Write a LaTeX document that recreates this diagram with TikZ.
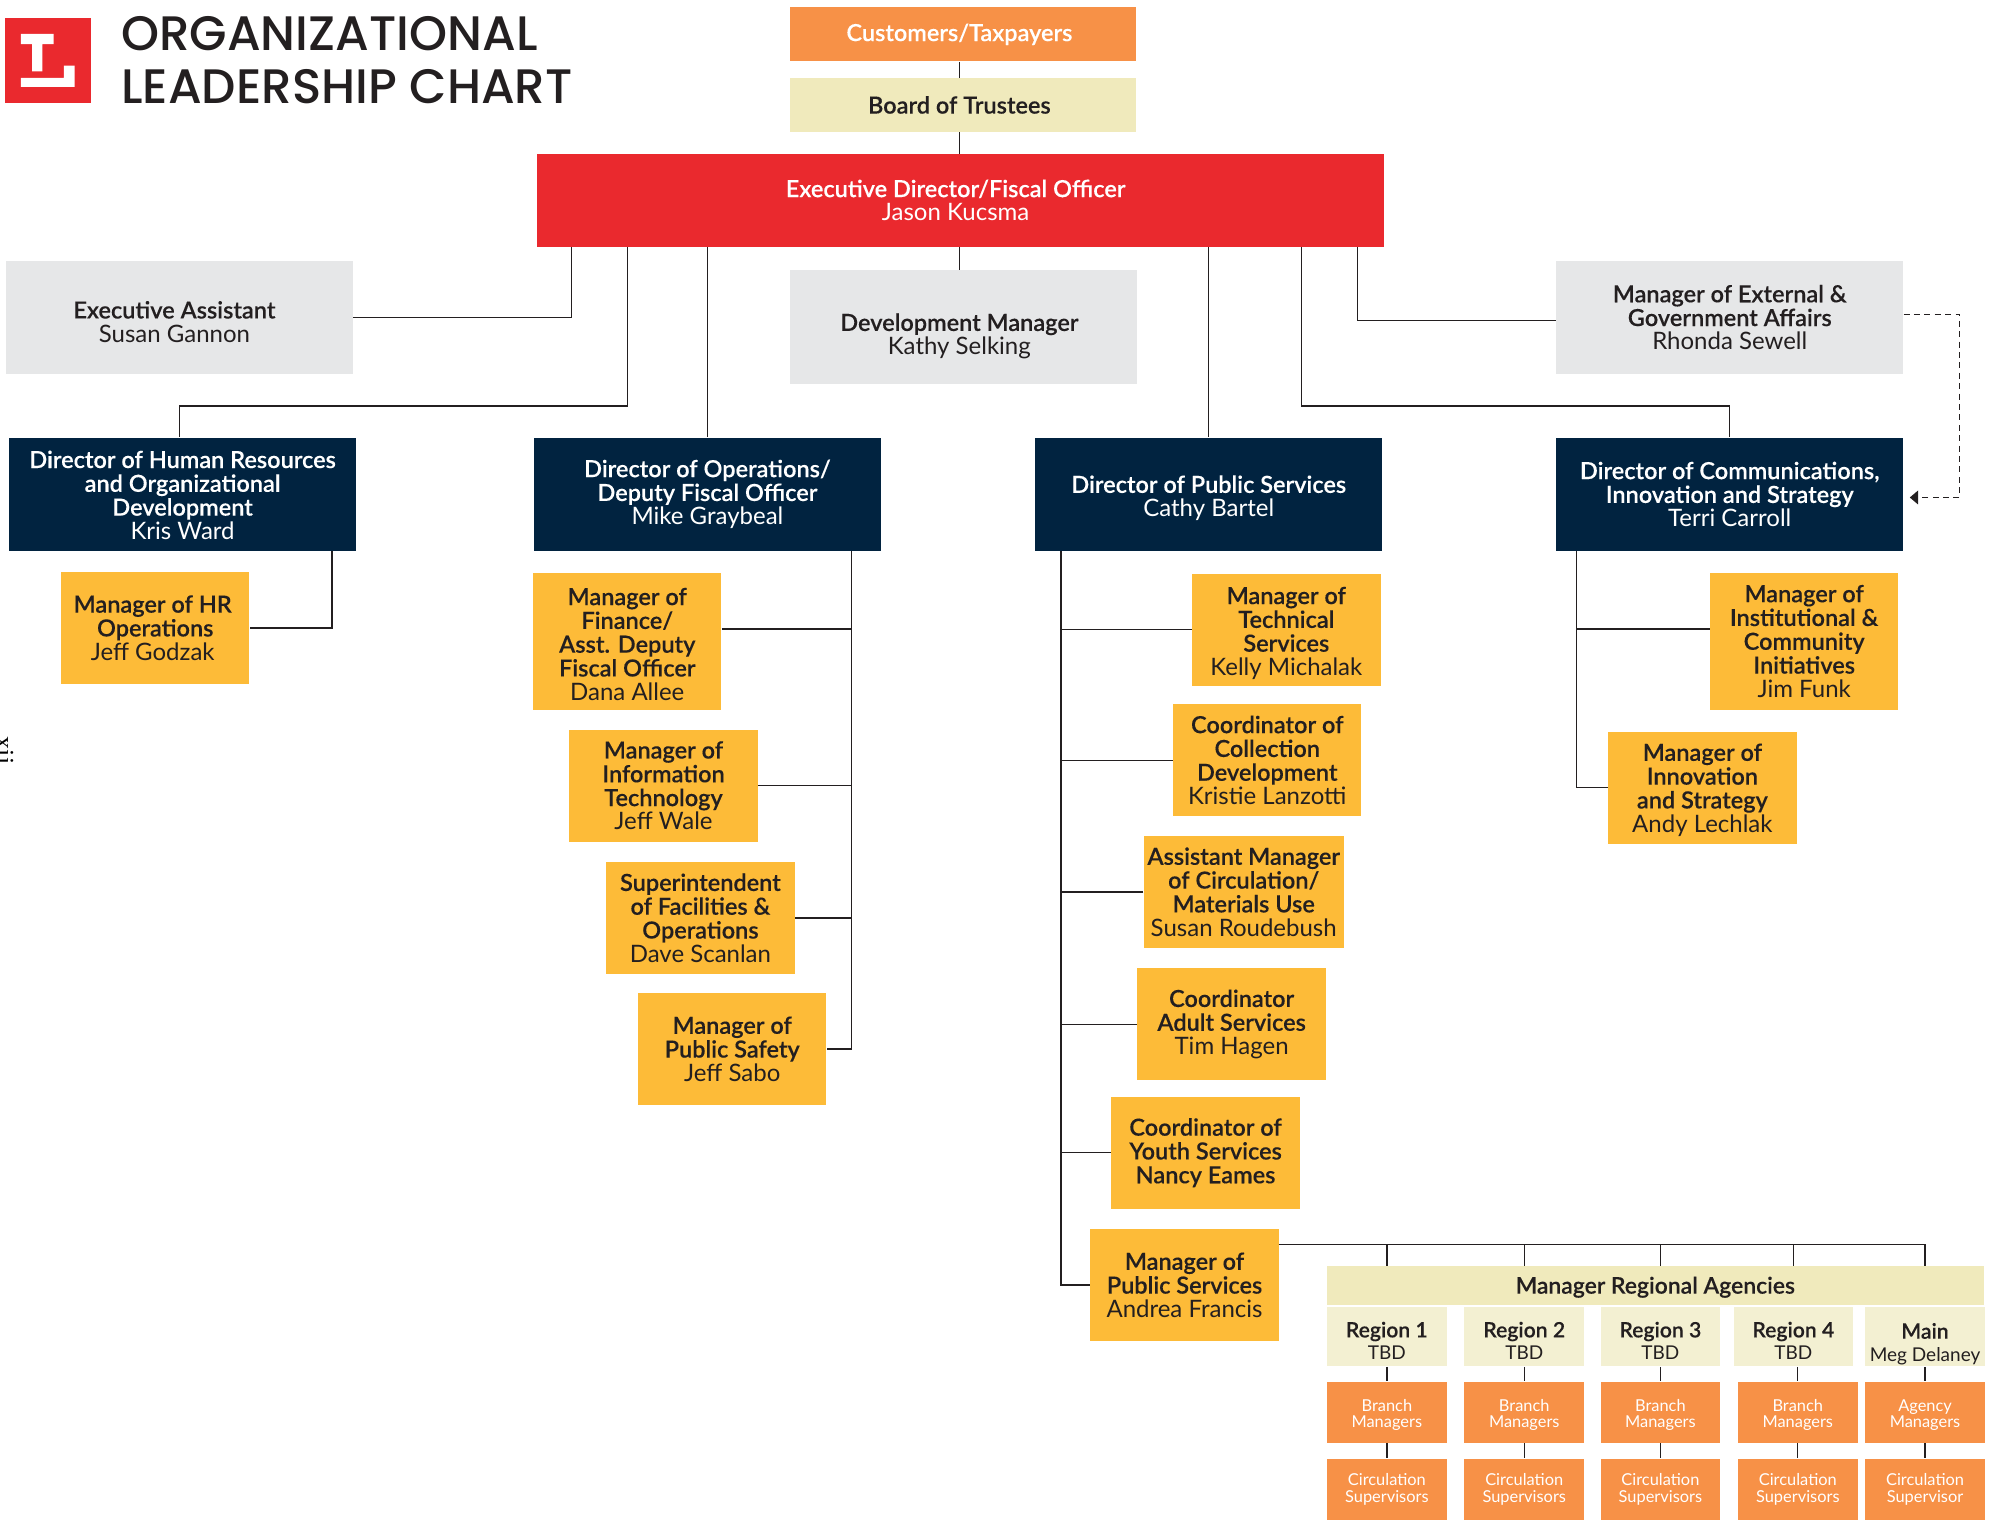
\documentclass[tikz,border=0pt]{standalone}
\usepackage{fontspec}
\setmainfont{Lato}[BoldFont={Lato Semibold}, BoldFeatures={Scale=0.98, FakeBold=0.15}]
\newfontfamily\titlefont{Poppins Medium}
\newfontfamily\pagefont{Liberation Serif}
\usepackage{tikz}
\definecolor{libred}{HTML}{EA292E}
\definecolor{liborange}{HTML}{F79147}
\definecolor{libcream}{HTML}{F0EABC}
\definecolor{libpale}{HTML}{F3F0D2}
\definecolor{libgray}{HTML}{E6E7E8}
\definecolor{libnavy}{HTML}{012340}
\definecolor{libyellow}{HTML}{FDBB38}
\definecolor{libink}{HTML}{231F20}
\newcommand{\dropline}[1]{\rule{0pt}{#1}}
\newcommand{\tail}[1]{\hspace*{#1}}

\begin{document}
\begin{tikzpicture}[x=0.6362pt, y=0.6362pt]
		\tikzstyle{box} = [inner sep = 0pt, align = center, text = libink, font = \fontsize{12}{11.9}\selectfont]
		\tikzstyle{wide} = [box, minimum width = 173.4pt, minimum height = 56.6pt]
		\tikzstyle{staff} = [wide, fill = libgray]
		\tikzstyle{director} = [wide, fill = libnavy, text = white]
		\tikzstyle{manager} = [box, fill = libyellow, minimum width = 94.2pt, minimum height = 56pt]
		\tikzstyle{top} = [box, minimum width = 173.2pt, minimum height = 27pt]
		\tikzstyle{region} = [box, fill = libpale, minimum width = 59.8pt, minimum height = 29.9pt, font = \fontsize{10.8}{11.2}\selectfont]
		\tikzstyle{branch} = [box, fill = liborange, text = white, minimum width = 59.8pt, minimum height = 30.5pt, font = \fontsize{8.2}{8.2}\selectfont]
		\tikzstyle{conn} = [libink, line width = 0.65pt]
		\useasboundingbox (0,0) rectangle (1568,-1195);
		
		\node[inner sep = 0pt, fill = libred, minimum width = 42.8pt, minimum height = 42.6pt] at (37.5,-47.5) (logo) {};
		\fill[white] (16.5,-26.6) -- (42.1,-26.6) -- (42.1,-34.7) -- (33.3,-34.7) -- (33.3,-56) -- (25.3,-56) -- (25.3,-34.7) -- (16.5,-34.7) -- cycle;
		\fill[white] (50.2,-51.6) -- (58.6,-51.6) -- (58.6,-68.3) -- (16.5,-68.3) -- (16.5,-61.3) -- (50.2,-61.3) -- cycle;
		\node[anchor = base west, inner sep = 0pt, text = libink, font = \titlefont\fontsize{24.2}{24.2}\selectfont] at (95,-40) (title1) {ORGANIZATIONAL};
		\node[anchor = base west, inner sep = 0pt, text = libink, font = \titlefont\fontsize{24.2}{24.2}\selectfont] at (95,-81.3) (title2) {LEADERSHIP CHART};
		\node[anchor = base, rotate = -90, inner sep = 0pt, font = \pagefont\fontsize{13}{13}\selectfont] at (-3,-590) (pageno) {xii};
		
		\node[top, fill = liborange, text = white] at (757,-27) (customers) {\textbf{Customers/Taxpayers}\tail{3.8pt}};
		\node[top, fill = libcream] at (757,-82.5) (board) {\textbf{Board of Trustees}\tail{3.8pt}};
		\node[box, fill = libred, text = white, minimum width = 423.7pt, minimum height = 46.4pt] at (755,-157.5) (execdir) {\textbf{Executive Director/Fiscal Officer}\tail{5pt}\\Jason Kucsma\tail{5pt}};
		
		\node[staff] at (141,-249.5) (execasst) {\dropline{13pt}\textbf{Executive Assistant}\tail{5pt}\\Susan Gannon\tail{5pt}};
		\node[staff] at (757,-257) (devmgr) {\dropline{18pt}\textbf{Development Manager}\tail{3.8pt}\\Kathy Selking\tail{3.8pt}};
		\node[staff] at (1359.5,-249.5) (extmgr) {\textbf{Manager of External \&}\\\textbf{Government Affairs}\\Rhonda Sewell};
		
		\node[director] at (143.5,-388.5) (dirhr) {\dropline{9.5pt}\textbf{Director of Human Resources}\\\textbf{and Organizational}\\\textbf{Development}\\Kris Ward};
		\node[director] at (556,-388.5) (dirops) {\textbf{Director of Operations/}\\\textbf{Deputy Fiscal Officer}\\Mike Graybeal};
		\node[director] at (950,-388.5) (dirpub) {\dropline{12.5pt}\textbf{Director of Public Services}\\Cathy Bartel};
		\node[director] at (1359.5,-388.5) (dircomm) {\textbf{Director of Communications,}\\\textbf{Innovation and Strategy}\\Terri Carroll};
		
		\node[manager] at (122,-493.5) (hrops) {\textbf{Manager of HR}\tail{2.5pt}\\\textbf{Operations}\tail{2.5pt}\\Jeff Godzak\tail{2.5pt}};
		
		\node[manager, minimum height = 68.7pt] at (493,-504) (finance) {\dropline{11.5pt}\textbf{Manager of}\\\textbf{Finance/}\\\textbf{Asst. Deputy}\\\textbf{Fiscal Officer}\\Dana Allee};
		\node[manager] at (521.5,-617.5) (infotech) {\textbf{Manager of}\\\textbf{Information}\\\textbf{Technology}\\Jeff Wale};
		\node[manager] at (550.5,-721.5) (facilities) {\textbf{Superintendent}\\\textbf{of Facilities \&}\\\textbf{Operations}\\Dave Scanlan};
		\node[manager] at (575.5,-824.5) (safety) {\textbf{Manager of}\\\textbf{Public Safety}\\Jeff Sabo};
		
		\node[manager] at (1011,-495) (techserv) {\dropline{12pt}\textbf{Manager of}\\\textbf{Technical}\\\textbf{Services}\\Kelly Michalak};
		\node[manager] at (996,-597.5) (collection) {\textbf{Coordinator of}\\\textbf{Collection}\\\textbf{Development}\\Kristie Lanzotti};
		\node[manager, minimum width = 99.9pt] at (977.5,-701) (circulation) {\textbf{Assistant Manager}\\\textbf{of Circulation/}\\\textbf{Materials Use}\\Susan Roudebush};
		\node[manager] at (968,-805) (adult) {\textbf{Coordinator}\\\textbf{Adult Services}\\Tim Hagen};
		\node[manager] at (947.5,-906) (youth) {\textbf{Coordinator of}\\\textbf{Youth Services}\\\textbf{Nancy Eames}};
		\node[manager] at (931,-1010) (pubserv) {\textbf{Manager of}\\\textbf{Public Services}\\Andrea Francis};
		
		\node[manager, minimum height = 68.7pt] at (1418,-504) (institutional) {\textbf{Manager of}\\\textbf{Institutional \&}\\\textbf{Community}\\\textbf{Initiatives}\\Jim Funk};
		\node[manager] at (1338,-619) (innovation) {\dropline{11pt}\textbf{Manager of}\\\textbf{Innovation}\\\textbf{and Strategy}\\Andy Lechlak};
		
		\node[box, fill = libcream, minimum width = 328.3pt, minimum height = 19.7pt, font = \fontsize{11.7}{11.7}\selectfont] at (1301,-1010.5) (regional) {\dropline{10pt}\textbf{Manager Regional Agencies}};
		\node[region] at (1090,-1050.5) (region1) {\dropline{12pt}\textbf{Region 1}\\{\fontsize{9.5}{11}\selectfont TBD}};
		\node[region] at (1198,-1050.5) (region2) {\dropline{12pt}\textbf{Region 2}\\{\fontsize{9.5}{11}\selectfont TBD}};
		\node[region] at (1305,-1050.5) (region3) {\dropline{12pt}\textbf{Region 3}\\{\fontsize{9.5}{11}\selectfont TBD}};
		\node[region] at (1409.5,-1050.5) (region4) {\dropline{12pt}\textbf{Region 4}\\{\fontsize{9.5}{11}\selectfont TBD}};
		\node[region] at (1513,-1050.5) (regionmain) {\dropline{15pt}\textbf{Main}\\{\fontsize{9.5}{11}\selectfont Meg Delaney}};
		
		\node[branch] at (1090,-1110) (branch1) {\dropline{8.8pt}Branch\\Managers};
		\node[branch] at (1198,-1110) (branch2) {\dropline{8.8pt}Branch\\Managers};
		\node[branch] at (1305,-1110) (branch3) {\dropline{8.8pt}Branch\\Managers};
		\node[branch] at (1413,-1110) (branch4) {\dropline{8.8pt}Branch\\Managers};
		\node[branch] at (1513,-1110) (branchmain) {\dropline{8.8pt}Agency\\Managers};
		
		\node[branch] at (1090,-1170.5) (circ1) {Circulation\\Supervisors};
		\node[branch] at (1198,-1170.5) (circ2) {Circulation\\Supervisors};
		\node[branch] at (1305,-1170.5) (circ3) {Circulation\\Supervisors};
		\node[branch] at (1413,-1170.5) (circ4) {Circulation\\Supervisors};
		\node[branch] at (1513,-1170.5) (circmain) {Circulation\\Supervisor};
		
		\coordinate (spine) at (754,-110);
		\coordinate (asstTap) at (449,-194);
		\coordinate (hrTap) at (493,-194);
		\coordinate (commTap) at (1023,-194);
		\coordinate (extTap) at (1067,-252);
		\coordinate (dirLevel) at (0,-319);
		\coordinate (hrDrop) at (141,-344);
		\coordinate (hrBus) at (261,-433);
		\coordinate (opsBus) at (669,-433);
		\coordinate (pubBus) at (834,-433);
		\coordinate (commBus) at (1239,-433);
		\coordinate (finLevel) at (0,-494.4);
		\coordinate (agencyBus) at (1005,-978);
		\coordinate (dashTurn) at (1540,-247);
		\coordinate (dashEnd) at (1501,-391);
		
		\draw[conn] (customers.south -| spine) -- (board.north -| spine);
		\draw[conn] (board.south -| spine) -- (execdir.north -| spine);
		\draw[conn] (execdir.south -| spine) -- (devmgr.north -| spine);
		\draw[conn] (execdir.south -| asstTap) |- (execasst.east);
		\draw[conn] (execdir.south -| hrTap) -- (hrTap |- dirLevel) -- (hrDrop |- dirLevel) -- (dirhr.north -| hrDrop);
		\draw[conn] (execdir.south -| dirops.north) -- (dirops.north);
		\draw[conn] (execdir.south -| dirpub.north) -- (dirpub.north);
		\draw[conn] (execdir.south -| commTap) -- (commTap |- dirLevel) -| (dircomm.north);
		\draw[conn] (execdir.south -| extTap) -- (extTap) -- (extTap -| extmgr.west);
		\draw[conn, dash pattern = on 3pt off 2.2pt] (extmgr.east |- dashTurn) -- (dashTurn) |- (dashEnd);
		\fill[libink] (dashEnd) -- ++(6.5,5.5) -- ++(0,-11) -- cycle;
		
		\draw[conn] (hrBus) |- (hrops.east);
		
		\draw[conn] (opsBus) |- (safety.east);
		\draw[conn] (finance.east |- finLevel) -- (finLevel -| opsBus);
		\draw[conn] (infotech.east) -- (infotech.east -| opsBus);
		\draw[conn] (facilities.east) -- (facilities.east -| opsBus);
		
		\draw[conn] (pubBus) |- (pubserv.west);
		\draw[conn] (techserv.west) -- (techserv.west -| pubBus);
		\draw[conn] (collection.west) -- (collection.west -| pubBus);
		\draw[conn] (circulation.west) -- (circulation.west -| pubBus);
		\draw[conn] (adult.west) -- (adult.west -| pubBus);
		\draw[conn] (youth.west) -- (youth.west -| pubBus);
		
		\draw[conn] (commBus) |- (innovation.west);
		\draw[conn] (institutional.west |- finLevel) -- (finLevel -| commBus);
		
		\draw[conn] (agencyBus) -- (agencyBus -| regionmain.north) -- (regional.north -| regionmain.north);
		\draw[conn] (agencyBus -| region1.north) -- (regional.north -| region1.north);
		\draw[conn] (agencyBus -| region2.north) -- (regional.north -| region2.north);
		\draw[conn] (agencyBus -| region3.north) -- (regional.north -| region3.north);
		\draw[conn] (agencyBus -| region4.north) -- (regional.north -| region4.north);
		
		\draw[conn] (region1.south) -- (branch1.north);
		\draw[conn] (region2.south) -- (branch2.north);
		\draw[conn] (region3.south) -- (branch3.north);
		\draw[conn] (region4.south -| branch4.north) -- (branch4.north);
		\draw[conn] (regionmain.south) -- (branchmain.north);
		
		\draw[conn] (branch1.south) -- (circ1.north);
		\draw[conn] (branch2.south) -- (circ2.north);
		\draw[conn] (branch3.south) -- (circ3.north);
		\draw[conn] (branch4.south) -- (circ4.north);
		\draw[conn] (branchmain.south) -- (circmain.north);
	\end{tikzpicture}
\end{document}
